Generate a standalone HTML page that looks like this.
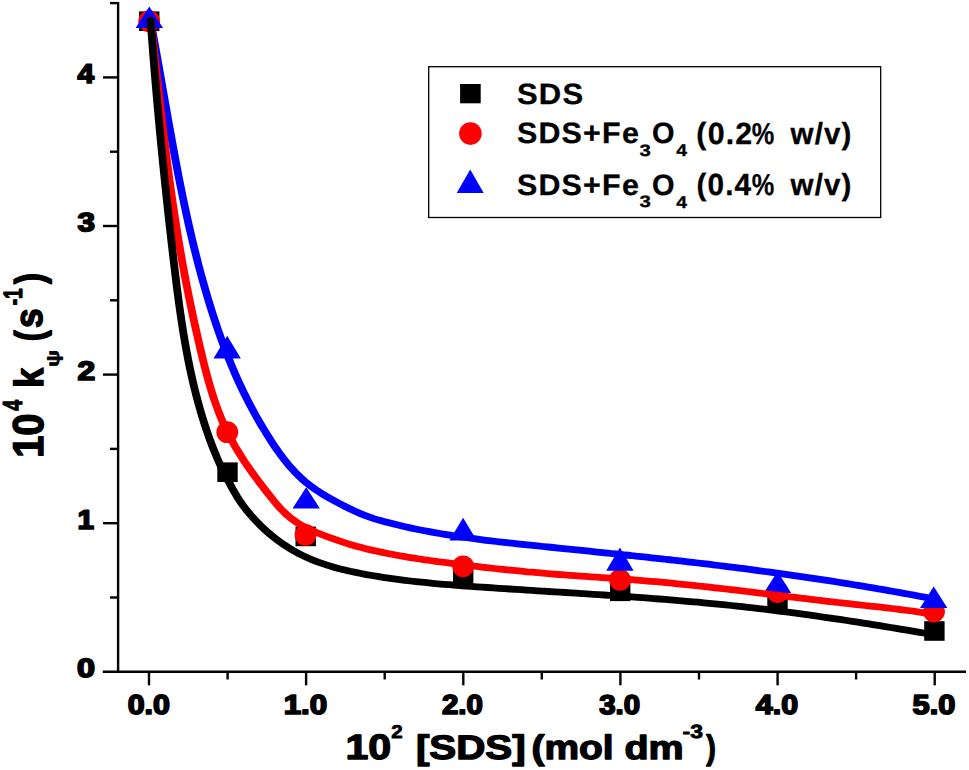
<!DOCTYPE html>
<html><head><meta charset="utf-8"><title>SDS rate plot</title>
<style>
html,body{margin:0;padding:0;background:#fff;}
svg{display:block}
text{font-family:"Liberation Sans",sans-serif;font-weight:bold;fill:#000;stroke:#000;stroke-linejoin:round;text-rendering:geometricPrecision}
.tk{font-size:28.3px;stroke-width:.9px}
.ti{font-size:35.5px;stroke-width:.9px}
.ts{font-size:20px;stroke-width:.6px}
.lg{font-size:28.3px;stroke-width:.5px}
.ls{font-size:17px;stroke-width:.4px}
</style></head><body>
<svg width="969" height="770" viewBox="0 0 969 770">
<rect width="969" height="770" fill="#fff"/>

<g stroke="#000" stroke-width="2.4" fill="none" stroke-linecap="butt">
<path d="M118.1,1.9 V673"/>
<path d="M102.8,671.8 H966"/>
<path d="M103,523.2 H118.1"/>
<path d="M103,374.6 H118.1"/>
<path d="M103,226.0 H118.1"/>
<path d="M103,77.4 H118.1"/>
<path d="M110,597.5 H118.1"/>
<path d="M110,448.9 H118.1"/>
<path d="M110,300.3 H118.1"/>
<path d="M110,151.7 H118.1"/>
<path d="M110,3.1 H118.1"/>
<path d="M149.0,671.8 V685.3"/>
<path d="M306.1,671.8 V685.3"/>
<path d="M463.3,671.8 V685.3"/>
<path d="M620.4,671.8 V685.3"/>
<path d="M777.6,671.8 V685.3"/>
<path d="M934.7,671.8 V685.3"/>
<path d="M227.6,671.8 V679.5"/>
<path d="M384.7,671.8 V679.5"/>
<path d="M541.8,671.8 V679.5"/>
<path d="M699.0,671.8 V679.5"/>
<path d="M856.1,671.8 V679.5"/>
</g>
<rect x="139.0" y="11.4" width="20.4" height="19.6" fill="#000"/>
<rect x="217.3" y="462.4" width="20.4" height="19.6" fill="#000"/>
<rect x="295.5" y="526.6" width="20.4" height="19.6" fill="#000"/>
<rect x="453.0" y="568.6" width="20.4" height="19.6" fill="#000"/>
<rect x="610.0" y="581.5" width="20.4" height="19.6" fill="#000"/>
<rect x="767.3" y="592.4" width="20.4" height="19.6" fill="#000"/>
<rect x="924.2" y="621.2" width="20.4" height="19.6" fill="#000"/>
<circle cx="149.2" cy="21.2" r="10.9" fill="#f00"/>
<circle cx="227.3" cy="432.2" r="10.9" fill="#f00"/>
<circle cx="305.5" cy="534.9" r="10.9" fill="#f00"/>
<circle cx="463.1" cy="566.3" r="10.9" fill="#f00"/>
<circle cx="619.9" cy="579.8" r="10.9" fill="#f00"/>
<circle cx="777.5" cy="592.0" r="10.9" fill="#f00"/>
<circle cx="934.0" cy="611.6" r="10.9" fill="#f00"/>
<path d="M149.3,6.4 L163.0,28.0 H135.6 Z" fill="#00f"/>
<path d="M227.2,335.8 L240.9,358.4 H213.5 Z" fill="#00f"/>
<path d="M306.2,487.3 L319.9,508.5 H292.5 Z" fill="#00f"/>
<path d="M463.1,517.7 L476.8,540.4 H449.4 Z" fill="#00f"/>
<path d="M619.9,547.5 L633.6,570.8 H606.2 Z" fill="#00f"/>
<path d="M777.5,571.4 L791.2,592.9 H763.8 Z" fill="#00f"/>
<path d="M933.7,586.4 L947.4,607.9 H920.0 Z" fill="#00f"/>
<path transform="scale(1.15,1)" d="M130.83,20.5 L131.66,25.6 L132.49,30.7 L133.30,35.8 L134.12,41.0 L134.92,46.1 L135.72,51.2 L136.52,56.3 L137.31,61.4 L138.10,66.5 L138.89,71.7 L139.67,76.8 L140.45,81.9 L141.23,87.0 L142.01,92.2 L142.79,97.3 L143.57,102.4 L144.36,107.5 L145.14,112.7 L145.93,117.8 L146.72,122.9 L147.51,128.0 L148.31,133.1 L149.12,138.3 L149.93,143.4 L150.74,148.5 L151.57,153.6 L152.40,158.7 L153.24,163.8 L154.09,169.0 L154.94,174.1 L155.81,179.2 L156.69,184.3 L157.58,189.4 L158.48,194.5 L159.40,199.6 L160.33,204.6 L161.27,209.7 L162.22,214.8 L163.20,219.9 L164.18,225.0 L165.19,230.0 L166.21,235.1 L167.24,240.1 L168.30,245.2 L169.38,250.2 L170.47,255.3 L171.58,260.3 L172.72,265.4 L173.88,270.4 L175.05,275.4 L176.25,280.4 L177.48,285.4 L178.73,290.4 L180.00,295.4 L181.30,300.4 L182.62,305.4 L183.97,310.3 L185.35,315.3 L186.75,320.2 L188.19,325.2 L189.65,330.1 L191.15,335.0 L192.68,339.9 L194.25,344.8 L195.85,349.7 L197.48,354.5 L199.16,359.3 L200.87,364.2 L202.61,368.9 L204.40,373.7 L206.23,378.5 L208.11,383.2 L210.02,387.9 L211.98,392.6 L213.98,397.2 L216.03,401.8 L218.12,406.4 L220.25,411.0 L222.43,415.6 L224.66,420.1 L226.94,424.6 L229.26,429.0 L231.63,433.5 L234.05,437.9 L236.51,442.3 L239.04,446.7 L241.63,451.0 L244.29,455.2 L247.03,459.3 L249.86,463.4 L252.78,467.4 L255.81,471.2 L258.94,474.9 L262.19,478.5 L265.57,481.9 L269.07,485.1 L272.70,488.2 L276.43,491.1 L280.25,493.9 L284.15,496.6 L288.10,499.2 L292.10,501.7 L296.12,504.1 L300.16,506.5 L304.22,508.8 L308.31,511.0 L312.44,513.1 L316.61,515.1 L320.83,516.9 L325.11,518.6 L329.43,520.1 L333.79,521.5 L338.17,522.8 L342.56,524.1 L346.96,525.3 L351.36,526.5 L355.78,527.6 L360.20,528.7 L364.62,529.8 L369.06,530.8 L373.49,531.7 L377.94,532.6 L382.39,533.5 L386.84,534.4 L391.30,535.2 L395.77,536.0 L400.24,536.8 L404.71,537.5 L409.19,538.2 L413.67,538.9 L418.15,539.6 L422.64,540.3 L427.13,540.9 L431.62,541.5 L436.11,542.1 L440.61,542.7 L445.11,543.2 L449.61,543.8 L454.11,544.3 L458.61,544.9 L463.11,545.4 L467.61,545.9 L472.12,546.5 L476.62,547.0 L481.12,547.5 L485.62,548.1 L490.12,548.6 L494.62,549.1 L499.12,549.6 L503.62,550.2 L508.12,550.7 L512.62,551.2 L517.12,551.8 L521.62,552.3 L526.12,552.8 L530.61,553.4 L535.11,553.9 L539.61,554.4 L544.10,555.0 L548.60,555.5 L553.09,556.1 L557.59,556.6 L562.08,557.2 L566.58,557.8 L571.07,558.3 L575.56,558.9 L580.05,559.5 L584.55,560.0 L589.04,560.6 L593.53,561.2 L598.02,561.8 L602.51,562.4 L607.00,563.0 L611.49,563.6 L615.98,564.2 L620.46,564.9 L624.95,565.5 L629.44,566.1 L633.93,566.8 L638.41,567.4 L642.90,568.1 L647.38,568.7 L651.87,569.4 L656.35,570.1 L660.83,570.8 L665.32,571.5 L669.80,572.2 L674.28,572.9 L678.76,573.6 L683.24,574.3 L687.72,575.1 L692.20,575.8 L696.67,576.6 L701.15,577.3 L705.62,578.1 L710.10,578.9 L714.57,579.6 L719.04,580.4 L723.51,581.2 L727.98,582.0 L732.45,582.9 L736.91,583.7 L741.38,584.5 L745.84,585.4 L750.30,586.2 L754.76,587.1 L759.22,587.9 L763.68,588.8 L768.14,589.7 L772.59,590.6 L777.04,591.5 L781.49,592.4 L785.94,593.3 L790.39,594.3 L794.83,595.2 L799.28,596.2 L803.72,597.1 L808.16,598.1 L812.59,599.1" fill="none" stroke="#00f" stroke-width="6.8" stroke-linecap="round" stroke-linejoin="round"/>
<path transform="scale(1.15,1)" d="M130.91,20.5 L131.44,25.9 L131.98,31.2 L132.51,36.6 L133.04,41.9 L133.57,47.3 L134.10,52.7 L134.62,58.0 L135.15,63.4 L135.68,68.7 L136.20,74.1 L136.73,79.5 L137.26,84.8 L137.79,90.2 L138.33,95.6 L138.86,100.9 L139.40,106.3 L139.95,111.6 L140.50,117.0 L141.05,122.4 L141.61,127.7 L142.17,133.1 L142.74,138.4 L143.31,143.8 L143.89,149.2 L144.48,154.5 L145.08,159.9 L145.68,165.2 L146.29,170.6 L146.91,175.9 L147.54,181.3 L148.18,186.6 L148.83,192.0 L149.49,197.3 L150.16,202.6 L150.85,208.0 L151.54,213.3 L152.25,218.6 L152.97,224.0 L153.70,229.3 L154.44,234.6 L155.20,240.0 L155.98,245.3 L156.76,250.6 L157.57,255.9 L158.39,261.2 L159.22,266.5 L160.07,271.8 L160.94,277.1 L161.82,282.4 L162.72,287.7 L163.63,293.0 L164.56,298.3 L165.50,303.6 L166.46,308.9 L167.44,314.1 L168.43,319.4 L169.43,324.7 L170.45,330.0 L171.49,335.2 L172.54,340.5 L173.60,345.8 L174.68,351.0 L175.78,356.3 L176.89,361.6 L178.04,366.8 L179.22,372.1 L180.44,377.3 L181.70,382.5 L183.01,387.7 L184.38,392.8 L185.81,398.0 L187.31,403.1 L188.88,408.1 L190.53,413.2 L192.27,418.1 L194.09,423.1 L196.02,428.0 L198.04,432.8 L200.17,437.6 L202.40,442.3 L204.73,447.0 L207.14,451.6 L209.63,456.2 L212.19,460.8 L214.82,465.3 L217.52,469.7 L220.26,474.1 L223.05,478.5 L225.88,482.9 L228.75,487.2 L231.64,491.5 L234.56,495.7 L237.49,499.9 L240.46,504.1 L243.54,508.1 L246.77,511.9 L250.18,515.6 L253.78,518.9 L257.55,522.0 L261.50,524.9 L265.60,527.4 L269.83,529.8 L274.16,532.0 L278.55,534.0 L282.98,536.0 L287.41,537.9 L291.85,539.7 L296.30,541.4 L300.76,543.1 L305.24,544.7 L309.74,546.2 L314.26,547.6 L318.79,548.9 L323.34,550.1 L327.90,551.3 L332.47,552.4 L337.06,553.5 L341.66,554.5 L346.27,555.5 L350.89,556.4 L355.52,557.3 L360.16,558.2 L364.80,559.0 L369.45,559.8 L374.11,560.5 L378.76,561.3 L383.42,562.0 L388.08,562.7 L392.74,563.4 L397.40,564.1 L402.06,564.7 L406.72,565.4 L411.38,566.0 L416.04,566.7 L420.70,567.3 L425.36,567.9 L430.02,568.5 L434.68,569.1 L439.35,569.6 L444.01,570.2 L448.67,570.7 L453.34,571.2 L458.01,571.8 L462.68,572.2 L467.35,572.7 L472.02,573.2 L476.69,573.6 L481.37,574.1 L486.05,574.5 L490.73,574.9 L495.41,575.3 L500.09,575.7 L504.77,576.1 L509.45,576.4 L514.14,576.8 L518.82,577.2 L523.51,577.6 L528.19,577.9 L532.87,578.3 L537.56,578.7 L542.24,579.1 L546.92,579.5 L551.60,579.9 L556.28,580.4 L560.95,580.8 L565.63,581.3 L570.30,581.7 L574.98,582.2 L579.65,582.7 L584.32,583.2 L588.98,583.8 L593.65,584.3 L598.32,584.9 L602.98,585.4 L607.65,586.0 L612.31,586.6 L616.97,587.2 L621.63,587.8 L626.30,588.4 L630.96,589.0 L635.62,589.6 L640.28,590.2 L644.93,590.9 L649.59,591.5 L654.25,592.2 L658.91,592.8 L663.57,593.5 L668.23,594.1 L672.88,594.8 L677.54,595.4 L682.20,596.1 L686.86,596.8 L691.52,597.4 L696.17,598.1 L700.83,598.7 L705.49,599.4 L710.15,600.0 L714.81,600.7 L719.47,601.3 L724.13,601.9 L728.79,602.5 L733.46,603.1 L738.12,603.7 L742.78,604.3 L747.45,604.9 L752.11,605.5 L756.78,606.1 L761.44,606.6 L766.10,607.2 L770.77,607.8 L775.43,608.5 L780.09,609.1 L784.74,609.8 L789.39,610.5 L794.04,611.2 L798.69,612.0 L803.33,612.8 L807.96,613.7 L812.59,614.7" fill="none" stroke="#f00" stroke-width="6.8" stroke-linecap="round" stroke-linejoin="round"/>
<path transform="scale(1.15,1)" d="M130.98,20.5 L131.33,26.0 L131.69,31.6 L132.05,37.1 L132.42,42.6 L132.79,48.2 L133.17,53.7 L133.56,59.3 L133.95,64.8 L134.34,70.3 L134.74,75.9 L135.15,81.4 L135.56,86.9 L135.97,92.4 L136.39,98.0 L136.82,103.5 L137.25,109.0 L137.69,114.5 L138.13,120.1 L138.57,125.6 L139.02,131.1 L139.48,136.6 L139.94,142.1 L140.41,147.7 L140.88,153.2 L141.35,158.7 L141.83,164.2 L142.32,169.7 L142.81,175.2 L143.30,180.8 L143.80,186.3 L144.31,191.8 L144.81,197.3 L145.33,202.8 L145.85,208.3 L146.37,213.8 L146.90,219.4 L147.43,224.9 L147.97,230.4 L148.51,235.9 L149.06,241.4 L149.61,246.9 L150.17,252.5 L150.73,258.0 L151.29,263.5 L151.86,269.0 L152.44,274.5 L153.03,280.1 L153.63,285.6 L154.24,291.1 L154.87,296.6 L155.51,302.1 L156.17,307.6 L156.84,313.1 L157.54,318.6 L158.27,324.1 L159.01,329.6 L159.78,335.1 L160.59,340.5 L161.42,346.0 L162.28,351.5 L163.17,356.9 L164.10,362.4 L165.07,367.8 L166.07,373.2 L167.12,378.6 L168.20,384.0 L169.33,389.4 L170.51,394.8 L171.73,400.1 L173.00,405.5 L174.32,410.8 L175.69,416.1 L177.11,421.4 L178.59,426.7 L180.13,431.9 L181.73,437.2 L183.39,442.4 L185.12,447.6 L186.92,452.7 L188.80,457.9 L190.75,462.9 L192.78,468.0 L194.90,473.0 L197.10,477.9 L199.37,482.8 L201.68,487.7 L204.04,492.5 L206.50,497.3 L209.10,501.9 L211.88,506.4 L214.83,510.8 L217.93,515.0 L221.15,519.1 L224.48,523.1 L227.90,527.1 L231.44,530.9 L235.09,534.5 L238.85,538.0 L242.72,541.4 L246.69,544.6 L250.75,547.6 L254.89,550.5 L259.12,553.2 L263.41,555.6 L267.78,558.0 L272.20,560.1 L276.68,562.1 L281.21,563.9 L285.79,565.6 L290.41,567.2 L295.07,568.7 L299.75,570.0 L304.47,571.3 L309.20,572.4 L313.95,573.5 L318.71,574.6 L323.47,575.5 L328.24,576.4 L333.02,577.3 L337.79,578.1 L342.57,578.9 L347.36,579.6 L352.14,580.3 L356.93,581.0 L361.73,581.6 L366.52,582.2 L371.32,582.7 L376.12,583.3 L380.92,583.8 L385.72,584.3 L390.53,584.7 L395.33,585.2 L400.14,585.6 L404.95,586.0 L409.76,586.4 L414.57,586.8 L419.38,587.2 L424.20,587.5 L429.01,587.9 L433.82,588.3 L438.64,588.6 L443.45,589.0 L448.27,589.4 L453.08,589.7 L457.90,590.1 L462.72,590.4 L467.53,590.8 L472.35,591.1 L477.17,591.5 L481.98,591.8 L486.80,592.2 L491.62,592.5 L496.43,592.9 L501.25,593.2 L506.07,593.6 L510.88,593.9 L515.70,594.3 L520.52,594.7 L525.33,595.0 L530.15,595.4 L534.96,595.8 L539.78,596.1 L544.59,596.5 L549.41,596.9 L554.22,597.3 L559.04,597.7 L563.85,598.1 L568.66,598.6 L573.47,599.0 L578.28,599.4 L583.09,599.9 L587.90,600.3 L592.71,600.8 L597.52,601.3 L602.32,601.8 L607.13,602.2 L611.93,602.8 L616.74,603.3 L621.54,603.8 L626.34,604.4 L631.14,604.9 L635.94,605.5 L640.74,606.1 L645.53,606.7 L650.33,607.3 L655.12,607.9 L659.92,608.6 L664.71,609.2 L669.50,609.9 L674.29,610.6 L679.07,611.3 L683.86,612.0 L688.64,612.7 L693.43,613.4 L698.21,614.2 L702.99,614.9 L707.77,615.7 L712.55,616.5 L717.32,617.3 L722.10,618.1 L726.87,618.9 L731.65,619.7 L736.42,620.5 L741.19,621.4 L745.96,622.2 L750.73,623.1 L755.50,623.9 L760.26,624.8 L765.03,625.7 L769.79,626.6 L774.55,627.5 L779.31,628.4 L784.07,629.3 L788.83,630.2 L793.59,631.1 L798.34,632.1 L803.10,633.0 L807.85,634.0 L812.61,634.9" fill="none" stroke="#000" stroke-width="6.8" stroke-linecap="round" stroke-linejoin="round"/>
<rect x="428.7" y="66.7" width="452" height="150.8" fill="#fff" stroke="#000" stroke-width="1.3"/>
<rect x="460.1" y="84" width="20.6" height="19.3" fill="#000"/>
<circle cx="470.4" cy="133.6" r="11.3" fill="#f00"/>
<path d="M470.2,169.5 L483.7,193 H456.7 Z" fill="#00f"/>
<text transform="translate(127.68,714.0) scale(1.1126,1.0)"  style="font-size:27.3px;stroke-width:1.7px">0.0</text>
<text transform="translate(283.71,714.0) scale(1.1432,1.0)"  style="font-size:27.4px;stroke-width:1.7px">1.0</text>
<text transform="translate(441.97,714.0) scale(1.0762,1.0)"  style="font-size:27.4px;stroke-width:1.7px">2.0</text>
<text transform="translate(599.17,713.75) scale(1.0841,1.0034)"  style="font-size:27.1px;stroke-width:1.7px">3.0</text>
<text transform="translate(755.83,714.0) scale(1.1083,1.0)"  style="font-size:27.4px;stroke-width:1.7px">4.0</text>
<text transform="translate(912.59,714.0) scale(1.1226,1.0)"  style="font-size:27.4px;stroke-width:1.7px">5.0</text>
<text transform="translate(76.98,676.89) scale(1.2197,0.9973)"  style="font-size:26.5px;stroke-width:1.7px">0</text>
<text transform="translate(77.45,528.63) scale(1.0868,0.9982)"  style="font-size:27.3px;stroke-width:1.7px">1</text>
<text transform="translate(77.39,379.94) scale(1.1917,0.998)"  style="font-size:26.7px;stroke-width:1.7px">2</text>
<text transform="translate(77.54,230.9) scale(1.2015,1.0024)"  style="font-size:26.1px;stroke-width:1.7px">3</text>
<text transform="translate(77.46,82.83) scale(1.0926,0.9982)"  style="font-size:27.3px;stroke-width:1.7px">4</text>
<text transform="translate(345.47,758.82) scale(1.1681,0.9993)"  style="font-size:35.2px;stroke-width:1.3px">10</text>
<text transform="translate(391.32,737.51) scale(1.106,1.004)"  style="font-size:18.5px;stroke-width:0.8px">2</text>
<text transform="translate(415.89,758.85) scale(1.1901,1.0023)"  style="font-size:33.9px;stroke-width:1.3px">[SDS]</text>
<text transform="translate(531.54,758.85) scale(1.1482,0.9989)"  style="font-size:33.9px;stroke-width:1.3px">(mol</text>
<text transform="translate(624.49,758.78) scale(1.1844,1.0003)"  style="font-size:33.3px;stroke-width:1.3px">dm</text>
<text transform="translate(682.59,738.09) scale(1.2116,1.0031)"  style="font-size:18.9px;stroke-width:0.8px">-3</text>
<text transform="translate(706.24,758.85) scale(0.8465,1.0023)"  style="font-size:33.9px;stroke-width:1.3px">)</text>
<text transform="translate(43.13,457.87) scale(1.0783,0.9975) rotate(-90)"  style="font-size:40.0px;stroke-width:1.3px">10</text>
<text transform="translate(21.73,410.75) scale(1.4016,0.9951) rotate(-90)"  style="font-size:19.7px;stroke-width:0.8px">4</text>
<text transform="translate(42.93,387.74) scale(1.1361,0.9985) rotate(-90)"  style="font-size:35.8px;stroke-width:1.3px">k</text>
<text transform="translate(59.17,366.96) scale(0.7943,1.0049) rotate(-90)"  style="font-size:22.6px;stroke-width:0.8px">ψ</text>
<text transform="translate(42.71,341.31) scale(1.22,1.0) rotate(-90)"  style="font-size:32.8px;stroke-width:1.3px">(</text>
<text transform="translate(42.46,327.96) scale(1.1049,1.0) rotate(-90)"  style="font-size:35.3px;stroke-width:1.3px">s</text>
<text transform="translate(21.66,305.37) scale(1.3858,1.0) rotate(-90)"  style="font-size:19.2px;stroke-width:0.8px">-1</text>
<text transform="translate(42.73,284.1) scale(1.2211,0.9949) rotate(-90)"  style="font-size:32.8px;stroke-width:1.3px">)</text>
<text transform="translate(516.94,104.1) scale(1.0609,1.0025)" letter-spacing="1.2" style="font-size:29.2px;stroke-width:0.3px">SDS</text>
<text transform="translate(516.94,143.45) scale(1.0404,1.0085)" letter-spacing="1.2" style="font-size:29.2px;stroke-width:0.3px">SDS+Fe</text>
<text transform="translate(639.45,156.1) scale(1.2364,1.0052)"  style="font-size:16.5px;stroke-width:0.3px">3</text>
<text transform="translate(651.99,143.4) scale(0.977,0.9981)"  style="font-size:29.6px;stroke-width:0.3px">O</text>
<text transform="translate(676.29,156.34) scale(1.1404,1.0)"  style="font-size:17.0px;stroke-width:0.3px">4</text>
<text transform="translate(696.35,143.74) scale(0.9906,1.001)" letter-spacing="1.2" style="font-size:30.6px;stroke-width:0.3px">(0.2</text>
<text transform="translate(751.66,143.74) scale(0.8352,0.9956)"  style="font-size:30.3px;stroke-width:0.3px">%</text>
<text transform="translate(790.49,143.55) scale(0.9656,0.9984)" letter-spacing="1.2" style="font-size:30.6px;stroke-width:0.3px">w/v)</text>
<text transform="translate(516.94,194.65) scale(1.0404,1.0085)" letter-spacing="1.2" style="font-size:29.2px;stroke-width:0.3px">SDS+Fe</text>
<text transform="translate(639.45,207.3) scale(1.2364,1.0052)"  style="font-size:16.5px;stroke-width:0.3px">3</text>
<text transform="translate(651.99,194.6) scale(0.977,0.9981)"  style="font-size:29.6px;stroke-width:0.3px">O</text>
<text transform="translate(676.29,207.54) scale(1.1404,1.0)"  style="font-size:17.0px;stroke-width:0.3px">4</text>
<text transform="translate(696.39,194.94) scale(0.9716,1.0022)" letter-spacing="1.2" style="font-size:30.6px;stroke-width:0.3px">(0.4</text>
<text transform="translate(751.66,194.94) scale(0.8352,0.9956)"  style="font-size:30.3px;stroke-width:0.3px">%</text>
<text transform="translate(790.49,194.75) scale(0.9656,0.9984)" letter-spacing="1.2" style="font-size:30.6px;stroke-width:0.3px">w/v)</text>
</svg></body></html>
